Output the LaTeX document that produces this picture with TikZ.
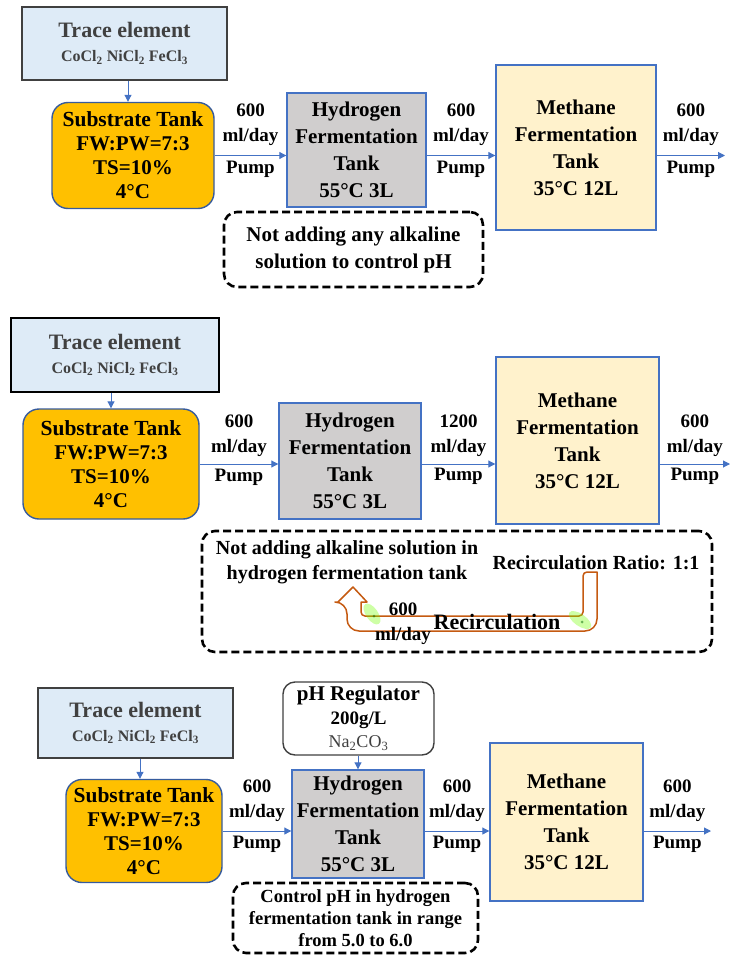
\documentclass[tikz,border=0pt]{standalone}
\usepackage{fontspec}
\setmainfont{Liberation Serif}
\usetikzlibrary{
  arrows.meta,
  positioning,  % Function "of" (e.g. [above=of x])
}
\definecolor{traceblue}{HTML}{DEEBF7}
\definecolor{tankline}{HTML}{4472C4}
\definecolor{subfill}{HTML}{FFC000}
\definecolor{hydfill}{HTML}{D0CECE}
\definecolor{metfill}{HTML}{FFF2CC}
\definecolor{recircline}{HTML}{C55A11}
\definecolor{darktext}{HTML}{404040}
\newcommand{\chsub}[1]{\textsubscript{#1}}
\newcommand{\tracetext}{%
  {\fontsize{22}{24}\selectfont Trace element}\\
  CoCl\chsub2 NiCl\chsub2 FeCl\chsub3}
\newcommand{\rate}[1]{#1\\ml/day}
\def\mytankfont{\fontsize{21}{27}\selectfont\bfseries}
\tikzset{
  font=\bfseries,
  >={Triangle[length=7pt,width=7pt]},
  my box/.style={
    draw,
    inner sep=0mm,
    align=center,
    rectangle
  },
  my trace/.style={
    my box,
    fill=traceblue,
    draw=darktext,
    text=darktext,
    line width=1.4pt,
    font=\fontsize{16}{24}\selectfont\bfseries
  },
  my substrate/.style={
    my box,
    fill=subfill,
    draw=tankline!80!black,
    line width=1.4pt,
    rounded corners=16pt,
    font=\fontsize{21}{24}\selectfont\bfseries
  },
  my hydrogen/.style={
    my box,
    fill=hydfill,
    draw=tankline,
    line width=1.4pt,
    font=\mytankfont
  },
  my methane/.style={
    my hydrogen,
    fill=metfill
  },
  my regulator/.style={
    my box,
    fill=white,
    draw=darktext,
    line width=1.4pt,
    rounded corners=12pt,
    font=\fontsize{19}{23.5}\selectfont\bfseries
  },
  my note/.style={
    my box,
    draw=black,
    line width=2.6pt,
    dash pattern=on 8pt off 4pt,
    rounded corners=13pt
  },
  my rate/.style={
    inner sep=0mm,
    align=center,
    font=\fontsize{19}{25}\selectfont\bfseries
  },
  flow/.style={
    ->,
    draw=tankline,
    line width=1pt
  },
  recirc/.style={
    draw=recircline,
    fill=white,
    line width=1.5pt,
    line join=round
  },
  glow/.style={
    fill=green!55!yellow,
    opacity=0.35
  }
}
\begin{document}
\begin{tikzpicture}[x=1pt,y=-1pt]
\useasboundingbox (0,0) rectangle (733,955);
% Panel 1
\node[my trace,minimum width=205pt,minimum height=73pt] (trace1) at (124.5,43.5) {\tracetext};
\node[my substrate,minimum width=162pt,minimum height=106pt] (sub1) at (133,155.5)
  {{\fontsize{21.5}{24}\selectfont Substrate Tank}\\FW:PW=7:3\\TS=10\%\\4°C};
\node[my hydrogen,minimum width=139pt,minimum height=114pt] (hyd1) at (356.5,150)
  {Hydrogen\\Fermentation\\Tank\\55°C 3L};
\node[my methane,minimum width=160pt,minimum height=165pt] (met1) at (576,147.5)
  {Methane\\Fermentation\\Tank\\35°C 12L};
\node[my note,minimum width=259pt,minimum height=75pt,font=\fontsize{21}{27}\selectfont\bfseries]
  (note1) at (353.5,249.5) {Not adding any alkaline\\solution to control pH};
\coordinate (out1) at (sub1.east -| 725,0);
\draw[flow] (trace1.south -| 128,0) -- (sub1.north -| 128,0);
\draw[flow] (sub1.east) -- (sub1.east -| hyd1.west)
  node[my rate,midway,above=9pt] {\rate{600}} node[my rate,midway,below=5pt] {Pump};
\draw[flow] (sub1.east -| hyd1.east) -- (sub1.east -| met1.west)
  node[my rate,midway,above=9pt] {\rate{600}} node[my rate,midway,below=5pt] {Pump};
\draw[flow] (sub1.east -| met1.east) -- (out1)
  node[my rate,midway,above=9pt] {\rate{600}} node[my rate,midway,below=5pt] {Pump};
% Panel 2
\node[my trace,draw=black,line width=2.2pt,minimum width=208pt,minimum height=74pt] (trace2) at (115,355) {\tracetext};
\node[my substrate,minimum width=176pt,minimum height=110pt] (sub2) at (111,464)
  {{\fontsize{21.5}{24}\selectfont Substrate Tank}\\FW:PW=7:3\\TS=10\%\\4°C};
\node[my hydrogen,minimum width=142pt,minimum height=116pt] (hyd2) at (350,461)
  {Hydrogen\\Fermentation\\Tank\\55°C 3L};
\node[my methane,minimum width=163pt,minimum height=167pt] (met2) at (577.5,440.5)
  {Methane\\Fermentation\\Tank\\35°C 12L};
\node[my note,minimum width=510pt,minimum height=121pt] (note2) at (457,591.5) {};
\coordinate (out2) at (sub2.east -| 730,0);
\draw[flow] (trace2.south -| sub2.north) -- (sub2.north);
\draw[flow] (sub2.east) -- (sub2.east -| hyd2.west)
  node[my rate,midway,above=7pt] {\rate{600}} node[my rate,midway,below=5pt] {Pump};
\draw[flow] (sub2.east -| hyd2.east) -- (sub2.east -| met2.west)
  node[my rate,midway,above=7pt] {\rate{1200}} node[my rate,midway,below=4pt] {Pump};
\draw[flow] (sub2.east -| met2.east) -- (out2)
  node[my rate,midway,above=7pt] {\rate{600}} node[my rate,midway,below=4pt] {Pump};
\node[my rate,font=\fontsize{20}{25}\selectfont\bfseries] (nonaoh) at (347,562.5)
  {Not adding alkaline solution in\\hydrogen fermentation tank};
\node[my rate,font=\fontsize{20}{25}\selectfont\bfseries] (ratio) at (596,563) {Recirculation Ratio: 1:1};
\draw[recirc] (338,602) -- (353,587) -- (367,602) -- (361,602)
  {[rounded corners=4pt] -- (361,616) -- (583,616) -- (583,572)} -- (597,572)
  {[rounded corners=12pt] -- (597,631) -- (347,631) -- (347,602)} -- cycle;
\fill[glow,rotate around={-55:(372,614)}] (372,614) ellipse [x radius=12, y radius=6];
\fill[glow,rotate around={-35:(580,620)}] (580,620) ellipse [x radius=13, y radius=6];
\fill[green!40!black,opacity=0.5] (374,616) circle [radius=1.5] (582,622) circle [radius=1.5];
\node[my rate] (recrate) at (403,624) {\rate{600}};
\node[my rate,font=\fontsize{22}{25}\selectfont\bfseries] (recname) at (497,622) {Recirculation};
% Panel 3
\node[my trace,minimum width=195pt,minimum height=70pt] (trace3) at (135.5,723) {\tracetext};
\node[my substrate,minimum width=156pt,minimum height=103pt] (sub3) at (144,831)
  {{\fontsize{21.5}{24}\selectfont Substrate Tank}\\FW:PW=7:3\\TS=10\%\\4°C};
\node[my regulator,minimum width=151pt,minimum height=73pt] (ph3) at (358.5,718.5)
  {{\fontsize{21}{23.5}\selectfont pH Regulator}\\200g/L\\{\fontsize{18}{23.5}\selectfont\mdseries\color{darktext}Na\chsub2CO\chsub3}};
\node[my hydrogen,minimum width=132pt,minimum height=108pt] (hyd3) at (358,824)
  {Hydrogen\\Fermentation\\Tank\\55°C 3L};
\node[my methane,minimum width=153pt,minimum height=158pt] (met3) at (566.5,822)
  {Methane\\Fermentation\\Tank\\35°C 12L};
\node[my note,minimum width=245pt,minimum height=70pt,font=\fontsize{18.5}{22}\selectfont\bfseries]
  (note3) at (355.5,918) {Control pH in hydrogen\\fermentation tank in range\\from 5.0 to 6.0};
\coordinate (out3) at (sub3.east -| 711,0);
\draw[flow] (trace3.south -| 140,0) -- (sub3.north -| 140,0);
\draw[flow] (ph3.south -| hyd3.north) -- (hyd3.north);
\draw[flow] (sub3.east) -- (sub3.east -| hyd3.west)
  node[my rate,midway,above=9pt] {\rate{600}} node[my rate,midway,below=5pt] {Pump};
\draw[flow] (sub3.east -| hyd3.east) -- (sub3.east -| met3.west)
  node[my rate,midway,above=9pt] {\rate{600}} node[my rate,midway,below=5pt] {Pump};
\draw[flow] (sub3.east -| met3.east) -- (out3)
  node[my rate,midway,above=9pt] {\rate{600}} node[my rate,midway,below=5pt] {Pump};
\end{tikzpicture}
\end{document}
